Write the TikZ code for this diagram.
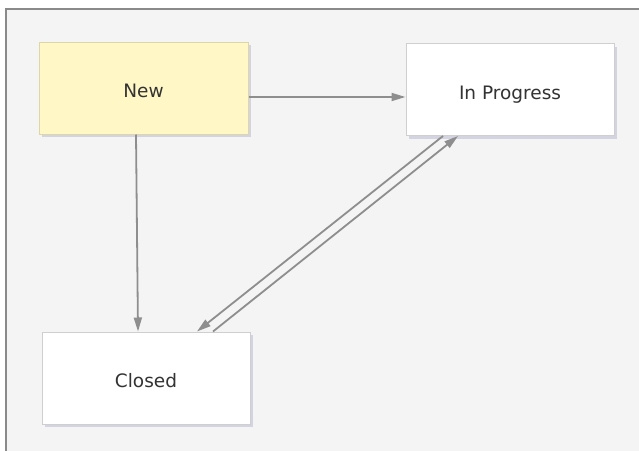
\documentclass[tikz,border=0pt]{standalone}
\usepackage{fontspec}
\setmainfont{DejaVu Sans}
\usetikzlibrary{arrows.meta,shadows}
\definecolor{canvas}{HTML}{F4F4F4}
\definecolor{framegray}{HTML}{8A8A8A}
\definecolor{edgegray}{HTML}{8E8E8E}
\definecolor{notefill}{HTML}{FFF8C6}
\definecolor{noteline}{HTML}{DDD6A6}
\definecolor{boxline}{HTML}{CFCFCF}
\definecolor{textgray}{HTML}{333333}

\begin{document}
\begin{tikzpicture}[
  x=1pt, y=-1pt,
  >={Triangle[length=14pt,width=8pt]},
  state/.style={draw=boxline, line width=1pt, fill=white, minimum width=208pt, minimum height=92pt,
    inner sep=0pt, text height=19.5pt, text depth=0pt, text=textgray, font=\fontsize{18.5}{22}\selectfont,
    drop shadow={shadow xshift=3pt, shadow yshift=-3pt, opacity=0.22, fill=blue!25!gray}},
  flow/.style={->, draw=edgegray, line width=1.8pt}
]
  \useasboundingbox (0,0) rectangle (639,450);
  \fill[white] (0,0) rectangle (639,450);
  \fill[canvas] (5.5,8.5) rectangle (660,470);
  \draw[framegray, line width=2pt] (5.5,470) -- (5.5,8.5) -- (660,8.5);

  \node[state, fill=notefill, draw=noteline, minimum width=209pt] (new) at (143.5,88) {New};
  \node[state] (inprog) at (510,89.5) {In Progress};
  \node[state] (closed) at (146,378) {Closed};

  \draw[flow] ([yshift=-9pt]new.east) -- ([yshift=-7.5pt]inprog.west);
  \draw[flow] ([xshift=-7.5pt]new.south) -- ([xshift=-8pt]closed.north);
  \draw[flow] ([xshift=-67pt]inprog.south) -- ([xshift=51pt]closed.north);
  \draw[flow] ([xshift=67pt]closed.north) -- ([xshift=-52pt]inprog.south);
\end{tikzpicture}
\end{document}
